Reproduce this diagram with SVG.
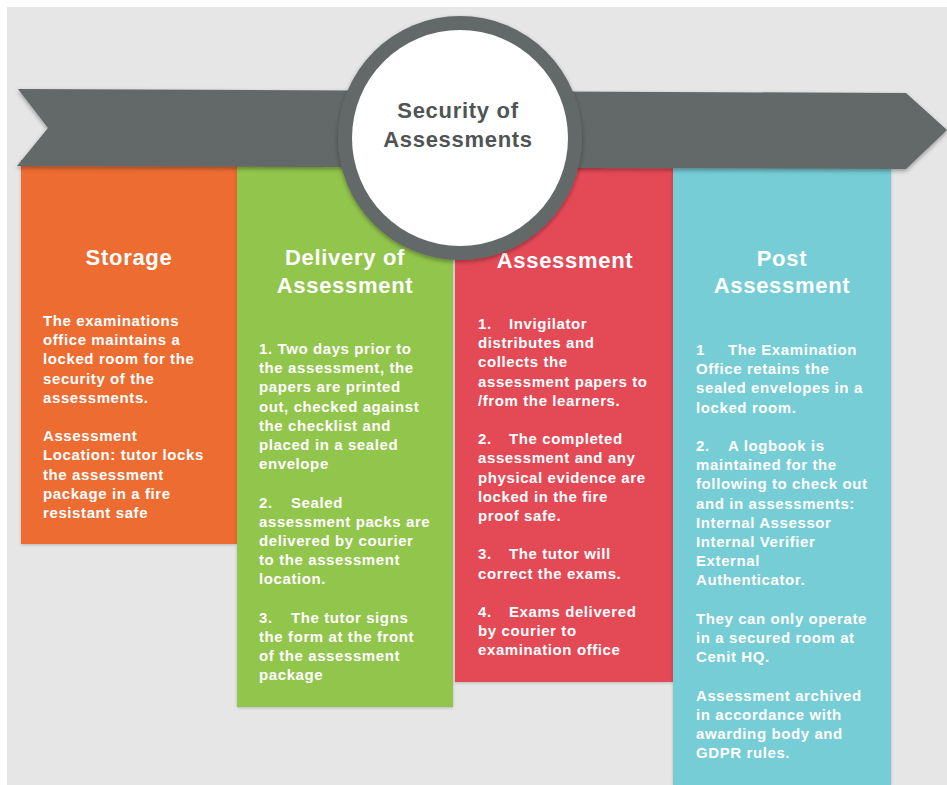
<svg xmlns="http://www.w3.org/2000/svg" width="947" height="785" viewBox="0 0 947 785">
<defs>
<filter id="sh" x="-10%" y="-10%" width="120%" height="130%">
<feDropShadow dx="0" dy="2" stdDeviation="2" flood-color="#000" flood-opacity="0.35"/>
</filter>
<filter id="sh2" x="-10%" y="-10%" width="120%" height="130%">
<feDropShadow dx="0" dy="1" stdDeviation="1.5" flood-color="#000" flood-opacity="0.2"/>
</filter>
</defs>
<style>
.t{font-family:"Liberation Sans",Arial,sans-serif;font-weight:bold;fill:#fff}
.h{font-size:22px;letter-spacing:0.7px;text-anchor:middle}
.b{font-size:15px;letter-spacing:0.6px}
.c{font-family:"Liberation Sans",Arial,sans-serif;font-weight:bold;fill:#4f5454;font-size:22px;letter-spacing:0.7px;text-anchor:middle}
</style>
<rect x="0" y="0" width="947" height="785" fill="#ffffff"/>
<rect x="7" y="7" width="940" height="778" fill="#e6e6e6"/>

<g id="storage">
<rect x="21" y="160" width="216" height="384" fill="#ec6c31" filter="url(#sh2)"/>
<text class="t h" x="129" y="265">Storage</text>
<text class="t b" x="43" y="326"><tspan x="43">The examinations</tspan><tspan x="43" dy="19.2">office maintains a</tspan><tspan x="43" dy="19.2">locked room for the</tspan><tspan x="43" dy="19.2">security of the</tspan><tspan x="43" dy="19.2">assessments.</tspan><tspan x="43" dy="38.4">Assessment</tspan><tspan x="43" dy="19.2">Location: tutor locks</tspan><tspan x="43" dy="19.2">the assessment</tspan><tspan x="43" dy="19.2">package in a fire</tspan><tspan x="43" dy="19.2">resistant safe</tspan></text>
</g>

<g id="delivery">
<rect x="237" y="160" width="216" height="547" fill="#92c54b" filter="url(#sh2)"/>
<text class="t h" x="345" y="265">Delivery of</text>
<text class="t h" x="345" y="293">Assessment</text>
<text class="t b" x="259" y="354"><tspan x="259">1. Two days prior to</tspan><tspan x="259" dy="19.2">the assessment, the</tspan><tspan x="259" dy="19.2">papers are printed</tspan><tspan x="259" dy="19.2">out, checked against</tspan><tspan x="259" dy="19.2">the checklist and</tspan><tspan x="259" dy="19.2">placed in a sealed</tspan><tspan x="259" dy="19.2">envelope</tspan><tspan x="259" dy="38.4">2.</tspan><tspan x="291">Sealed</tspan><tspan x="259" dy="19.2">assessment packs are</tspan><tspan x="259" dy="19.2">delivered by courier</tspan><tspan x="259" dy="19.2">to the assessment</tspan><tspan x="259" dy="19.2">location.</tspan><tspan x="259" dy="38.4">3.</tspan><tspan x="291">The tutor signs</tspan><tspan x="259" dy="19.2">the form at the front</tspan><tspan x="259" dy="19.2">of the assessment</tspan><tspan x="259" dy="19.2">package</tspan></text>
</g>

<g id="assessment">
<rect x="455" y="162" width="218" height="520" fill="#e44a56" filter="url(#sh2)"/>
<text class="t h" x="565" y="268">Assessment</text>
<text class="t b" x="478" y="329"><tspan x="478">1.</tspan><tspan x="509">Invigilator</tspan><tspan x="478" dy="19.2">distributes and</tspan><tspan x="478" dy="19.2">collects the</tspan><tspan x="478" dy="19.2">assessment papers to</tspan><tspan x="478" dy="19.2">/from the learners.</tspan><tspan x="478" dy="38.4">2.</tspan><tspan x="509">The completed</tspan><tspan x="478" dy="19.2">assessment and any</tspan><tspan x="478" dy="19.2">physical evidence are</tspan><tspan x="478" dy="19.2">locked in the fire</tspan><tspan x="478" dy="19.2">proof safe.</tspan><tspan x="478" dy="38.4">3.</tspan><tspan x="509">The tutor will</tspan><tspan x="478" dy="19.2">correct the exams.</tspan><tspan x="478" dy="38.4">4.</tspan><tspan x="509">Exams delivered</tspan><tspan x="478" dy="19.2">by courier to</tspan><tspan x="478" dy="19.2">examination office</tspan></text>
</g>

<g id="post">
<rect x="673" y="160" width="218" height="625" fill="#76cdd6" filter="url(#sh2)"/>
<text class="t h" x="782" y="266">Post</text>
<text class="t h" x="782" y="293">Assessment</text>
<text class="t b" x="696" y="355"><tspan x="696">1</tspan><tspan x="728">The Examination</tspan><tspan x="696" dy="19.2">Office retains the</tspan><tspan x="696" dy="19.2">sealed envelopes in a</tspan><tspan x="696" dy="19.2">locked room.</tspan><tspan x="696" dy="38.4">2.</tspan><tspan x="728">A logbook is</tspan><tspan x="696" dy="19.2">maintained for the</tspan><tspan x="696" dy="19.2">following to check out</tspan><tspan x="696" dy="19.2">and in assessments:</tspan><tspan x="696" dy="19.2">Internal Assessor</tspan><tspan x="696" dy="19.2">Internal Verifier</tspan><tspan x="696" dy="19.2">External</tspan><tspan x="696" dy="19.2">Authenticator.</tspan><tspan x="696" dy="38.4">They can only operate</tspan><tspan x="696" dy="19.2">in a secured room at</tspan><tspan x="696" dy="19.2">Cenit HQ.</tspan><tspan x="696" dy="38.4">Assessment archived</tspan><tspan x="696" dy="19.2">in accordance with</tspan><tspan x="696" dy="19.2">awarding body and</tspan><tspan x="696" dy="19.2">GDPR rules.</tspan></text>
</g>

<g id="banner">
<polygon points="18,89 906,93 947,130 906,169 17,166 48,128" fill="#636968" filter="url(#sh)"/>
</g>

<g id="title">
<circle cx="460" cy="138" r="122" fill="#636968" filter="url(#sh)"/>
<circle cx="460" cy="138" r="108" fill="#ffffff"/>
<text class="c" x="458" y="118">Security of</text>
<text class="c" x="458" y="147">Assessments</text>
</g>

<g id="connectors"></g>
</svg>
